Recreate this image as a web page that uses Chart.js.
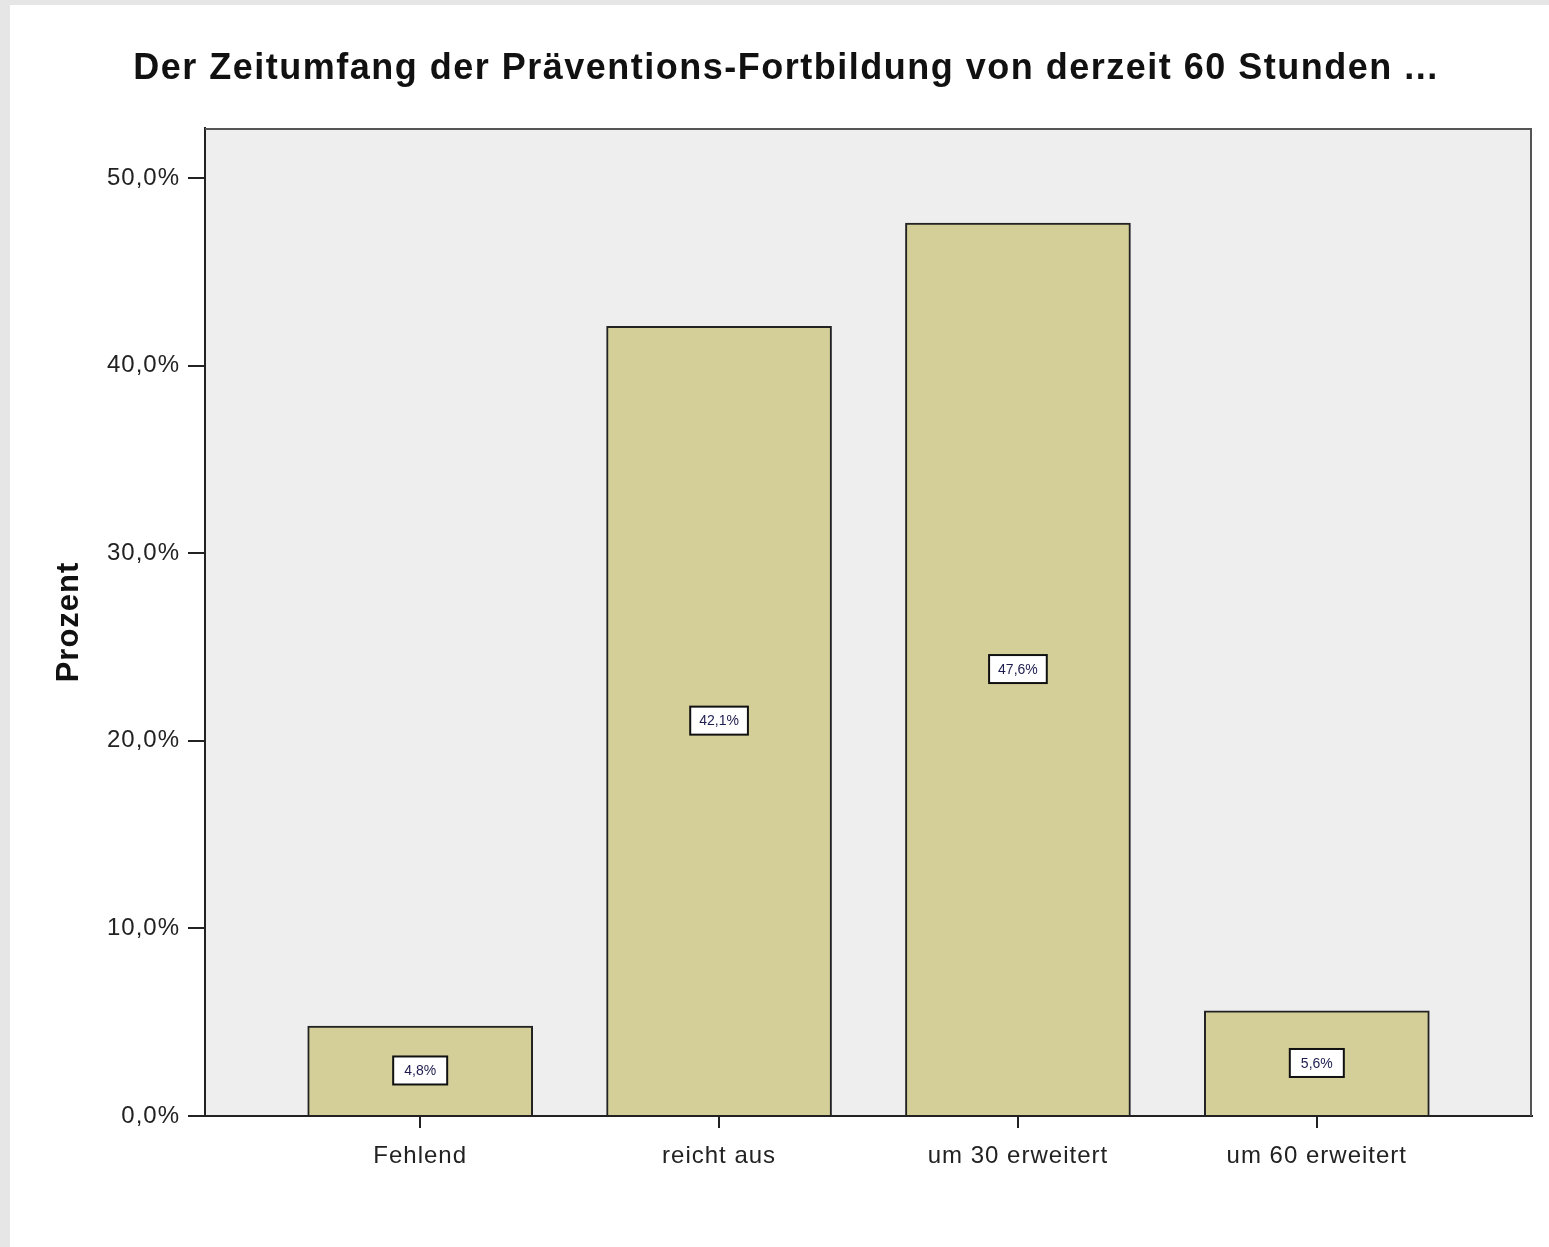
<!DOCTYPE html>
<html>
<head>
<meta charset="utf-8">
<script src="https://cdn.jsdelivr.net/npm/chart.js@4.4.0/dist/chart.umd.min.js"></script>
<style>
  html, body { margin: 0; padding: 0; background: #e6e6e6; }
  #wrap { position: absolute; left: 0; top: 0; width: 1549px; height: 1247px; }
</style>
</head>
<body>
<div id="wrap"><canvas id="c" width="1549" height="1247"></canvas></div>
<script>
const categories = ["Fehlend", "reicht aus", "um 30 erweitert", "um 60 erweitert"];
const percentValues = [4.8, 42.1, 47.6, 5.6];
const valueLabels = ["4,8%", "42,1%", "47,6%", "5,6%"];
const yTickValues = [0, 10, 20, 30, 40, 50];
const chartTitle = "Der Zeitumfang der Präventions-Fortbildung von derzeit 60 Stunden ...";
const yAxisTitle = "Prozent";

const FONT = '"Liberation Sans", Arial, sans-serif';

const frame = {
  id: 'frame',
  beforeDraw(chart) {
    const ctx = chart.ctx;
    ctx.save();
    ctx.fillStyle = '#e6e6e6';
    ctx.fillRect(0, 0, chart.width, chart.height);
    ctx.fillStyle = '#ffffff';
    ctx.fillRect(10, 5, chart.width - 10, chart.height - 5);
    const a = chart.chartArea;
    ctx.fillStyle = '#eeeeee';
    ctx.fillRect(a.left, a.top, a.right - a.left, a.bottom - a.top);
    // title
    ctx.letterSpacing = '1.5px';
    ctx.font = 'bold 36px ' + FONT;
    ctx.fillStyle = '#111111';
    ctx.textAlign = 'center';
    ctx.textBaseline = 'middle';
    ctx.fillText(chartTitle, 786, 69);
    ctx.restore();
    // wider spacing for axis texts (SPSS-like rendering)
    ctx.letterSpacing = '1px';
  },
  afterDraw(chart) {
    const ctx = chart.ctx;
    const a = chart.chartArea;
    ctx.save();
    ctx.letterSpacing = '0px';
    ctx.strokeStyle = '#555555';
    ctx.lineWidth = 2;
    ctx.beginPath();
    ctx.moveTo(a.left, a.top + 1);
    ctx.lineTo(a.right - 1, a.top + 1);
    ctx.lineTo(a.right - 1, a.bottom);
    ctx.stroke();
    // value labels
    const meta = chart.getDatasetMeta(0);
    ctx.font = '14px ' + FONT;
    ctx.textAlign = 'center';
    ctx.textBaseline = 'middle';
    meta.data.forEach((bar, i) => {
      const cx = bar.x;
      const cy = (bar.y + bar.base) / 2;
      const txt = valueLabels[i];
      const w = Math.max(54, ctx.measureText(txt).width + 18);
      const h = 28;
      ctx.fillStyle = '#ffffff';
      ctx.fillRect(cx - w / 2, cy - h / 2, w, h);
      ctx.strokeStyle = '#111111';
      ctx.lineWidth = 2;
      ctx.strokeRect(cx - w / 2, cy - h / 2, w, h);
      ctx.fillStyle = '#1c1c50';
      ctx.fillText(txt, cx, cy + 1);
    });
    ctx.restore();
  }
};

new Chart(document.getElementById('c'), {
  type: 'bar',
  data: {
    datasets: [{
      data: percentValues.map((v, i) => ({ x: i, y: v })),
      backgroundColor: '#d4cf98',
      borderColor: '#222222',
      borderWidth: 2,
      borderSkipped: 'bottom',
      barThickness: 225
    }]
  },
  options: {
    responsive: false,
    animation: false,
    devicePixelRatio: 1,
    layout: { padding: { left: 10, top: 128, right: 17, bottom: 0 } },
    plugins: {
      legend: { display: false },
      tooltip: { enabled: false },
      title: { display: false }
    },
    scales: {
      x: {
        type: 'linear',
        offset: false,
        min: -0.72,
        max: 3.72,
        afterBuildTicks(scale) { scale.ticks = categories.map((c, i) => ({ value: i })); },
        afterFit(scale) { scale.height = 131; },
        ticks: {
          autoSkip: false,
          maxRotation: 0,
          padding: 14,
          color: '#222222',
          font: { family: FONT, size: 24 },
          callback: (v) => categories[v]
        },
        grid: { display: true, offset: false, drawOnChartArea: false, tickLength: 12, color: '#222222', lineWidth: 2 },
        border: { display: true, color: '#222222', width: 2 }
      },
      y: {
        min: 0,
        max: 52.67,
        afterBuildTicks(scale) { scale.ticks = yTickValues.map(v => ({ value: v })); },
        afterFit(scale) { scale.width = 195; },
        ticks: {
          padding: 8,
          color: '#222222',
          font: { family: FONT, size: 24 },
          callback: (v) => v.toFixed(1).replace('.', ',') + '%'
        },
        grid: { display: true, drawOnChartArea: false, tickLength: 17, color: '#222222', lineWidth: 2 },
        border: { display: true, color: '#222222', width: 2 },
        title: {
          display: true,
          text: yAxisTitle,
          color: '#111111',
          font: { family: FONT, size: 31, weight: 'bold', lineHeight: 1.2 },
          padding: { top: 41, bottom: 0 }
        }
      }
    }
  },
  plugins: [frame]
});
</script>
</body>
</html>
